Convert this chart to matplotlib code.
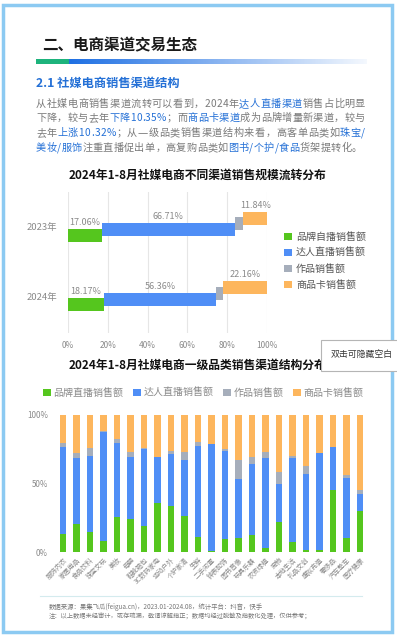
import numpy as np
import matplotlib
matplotlib.use('Agg')
import matplotlib.pyplot as plt
from matplotlib.patches import Rectangle
from matplotlib.lines import Line2D

plt.rcParams['font.family'] = ['Noto Sans CJK SC', 'DejaVu Sans']

# 数据 / data
years = ['2023年', '2024年']
channels = ['品牌自播销售额', '达人直播销售额', '作品销售额', '商品卡销售额']
share_2023 = [17.06, 66.71, 4.39, 11.84]
share_2024 = [18.17, 56.36, 3.31, 22.16]

cats = ['服饰内衣', '家居用品', '食品饮料', '珠宝文玩', '美妆', '母婴', '鞋靴箱包',
        '3C数码家电', '运动户外', '个护家清', '生鲜', '二手闲置', '钟表配饰', '图书音像',
        '玩具乐器', '农资绿植', '宠物', '本地生活', '礼品文创', '虚拟充值', '奢侈品',
        '汽车整车', '医疗健康']
brand_live = [13.0, 20.7, 14.6, 7.8, 25.6, 24.4, 18.8, 35.9, 33.7, 26.1, 11.0, 0.5,
              9.8, 10.2, 12.2, 2.9, 22.0, 7.3, 1.2, 1.2, 45.6, 10.2, 29.8]
kol_live = [64.0, 47.6, 55.6, 80.0, 53.7, 45.1, 56.1, 33.1, 37.5, 41.0, 66.6, 78.0,
            63.9, 43.0, 51.7, 65.4, 28.0, 61.0, 55.4, 70.8, 30.7, 43.5, 12.9]
works = [2.5, 3.7, 5.4, 0.5, 2.9, 3.7, 1.2, 0.5, 2.5, 6.1, 2.9, 0.5,
         1.4, 13.9, 5.6, 4.4, 8.5, 1.7, 6.1, 0.4, 0.5, 2.4, 2.4]
card = [100 - a - b - c for a, b, c in zip(brand_live, kol_live, works)]
legend2 = ['品牌直播销售额', '达人直播销售额', '作品销售额', '商品卡销售额']

colors = ['#55c61e', '#4f8ef6', '#a6aebb', '#fdb65d']
BLUE = '#2470d6'
GRAY = '#7a7a7a'

W, H = 397, 635
def fx(x):
    return x / W
def fy(y):
    return 1 - y / H

fig = plt.figure(figsize=(W / 100, H / 100), dpi=100)
fig.patch.set_facecolor('white')
renderer = fig.canvas.get_renderer()

# 外框
fig.patches.append(Rectangle((fx(3), fy(632)), 389 / W, 627 / H, transform=fig.transFigure,
                             fill=False, edgecolor='#8ccaf2', lw=2.5, zorder=1))

# 标题
fig.text(fx(42), fy(45), '二、电商渠道交易生态', fontsize=11.2, fontweight='bold',
         color='#1a1a1a', va='center')

# 渐变条
gax = fig.add_axes([fx(36), fy(64), 331 / W, 5 / H])
n = 331
img = np.ones((1, n, 4))
g_end = 33
img[0, :g_end, :3] = matplotlib.colors.to_rgb('#1db37c')
img[0, g_end:, :3] = matplotlib.colors.to_rgb('#1d6fe3')
img[0, g_end:, 3] = np.linspace(1, 0.05, n - g_end)
gax.imshow(img, aspect='auto')
gax.axis('off')

fig.text(fx(36), fy(83), '2.1 社媒电商销售渠道结构', fontsize=8.8, fontweight='bold',
         color=BLUE, va='center')

# 正文（两端对齐）
def para_line(y, parts, x0, x1, size=7.3):
    items = []
    for s, c in parts:
        for ch in s:
            items.append(fig.text(0, fy(y), ch, color=c, fontsize=size, va='center'))
    ws = [t.get_window_extent(renderer).width for t in items]
    gap = (x1 - x0 - sum(ws)) / (len(items) - 1)
    x = x0
    for t, w in zip(items, ws):
        t.set_x(fx(x))
        x += w + gap

para_line(104, [('从社媒电商销售渠道流转可以看到，2024年', GRAY), ('达人直播渠道', BLUE),
                ('销售占比明显', GRAY)], 36, 365)
para_line(118, [('下降，较与去年', GRAY), ('下降10.35%', BLUE), ('；而', GRAY),
                ('商品卡渠道', BLUE), ('成为品牌增量新渠道，较与', GRAY)], 36, 365)
para_line(133, [('去年', GRAY), ('上涨10.32%', BLUE),
                ('；从一级品类销售渠道结构来看，高客单品类如', GRAY), ('珠宝/', BLUE)], 36, 365)
para_line(148, [('美妆/服饰', BLUE), ('注重直播促出单，高复购品类如', GRAY),
                ('图书/个护/食品', BLUE), ('货架提转化。', GRAY)], 36, 362)

# 图1
fig.text(fx(197), fy(175), '2024年1-8月社媒电商不同渠道销售规模流转分布', fontsize=8.5,
         fontweight='bold', ha='center', va='center', color='#111111')

ax1 = fig.add_axes([fx(68), fy(333), 199 / W, 141 / H])
ypos = [1, 0]
offsets = [-0.121, -0.043, 0.043, 0.121]
bh = 0.186
handles = []
for yc, vals in zip(ypos, [share_2023, share_2024]):
    left = 0
    for i, v in enumerate(vals):
        b = ax1.barh(yc + offsets[i], v, left=left, height=bh, color=colors[i], zorder=3)
        if yc == 1:
            handles.append(b)
        if i != 2:
            ax1.text(left + v / 2, yc + offsets[i] + bh / 2 + 0.03, '%.2f%%' % v,
                     ha='center', va='bottom', fontsize=6.5, color='#8a8a8a', zorder=4)
        left += v
ax1.set_xlim(0, 100)
ax1.set_ylim(-0.53, 1.5)
ax1.set_xticks(range(0, 101, 20))
ax1.set_xticklabels(['%d%%' % t for t in range(0, 101, 20)])
ax1.set_yticks(ypos)
ax1.set_yticklabels(years)
ax1.grid(axis='x', color='#e6e6e6', lw=0.8, zorder=0)
ax1.tick_params(length=0, labelsize=6, labelcolor='#8a8a8a', pad=6)
ax1.tick_params(axis='y', labelsize=6.8, pad=8)
for s in ax1.spines.values():
    s.set_visible(False)
ax1.legend(handles, channels, loc='upper left', bbox_to_anchor=(fx(284), fy(232)),
           bbox_transform=fig.transFigure, frameon=False, fontsize=7.2,
           handlelength=0.8, handleheight=0.8, handletextpad=0.4, labelspacing=0.6,
           borderpad=0, borderaxespad=0, labelcolor='#555555')

# 图2
fig.text(fx(197), fy(365), '2024年1-8月社媒电商一级品类销售渠道结构分布', fontsize=8.5,
         fontweight='bold', ha='center', va='center', color='#111111')

ax2 = fig.add_axes([fx(55), fy(552), 313 / W, 137 / H])
x = np.arange(len(cats))
bottom = np.zeros(len(cats))
bars2 = []
for vals, c in zip([brand_live, kol_live, works, card], colors):
    bars2.append(ax2.bar(x, vals, bottom=bottom, width=0.5, color=c, zorder=3))
    bottom += np.array(vals)
ax2.set_xlim(-0.6, len(cats) - 0.4)
ax2.set_ylim(0, 100)
ax2.set_yticks([0, 50, 100])
ax2.set_yticklabels(['0%', '50%', '100%'])
ax2.set_xticks(x)
ax2.set_xticklabels(cats, rotation=45, ha='right', rotation_mode='anchor')
ax2.tick_params(length=0, labelcolor='#8a8a8a')
ax2.tick_params(axis='y', labelsize=5.8, pad=5)
ax2.tick_params(axis='x', labelsize=4.8, pad=3)
for s in ax2.spines.values():
    s.set_visible(False)
fig.legend(bars2, legend2, loc='center', bbox_to_anchor=(fx(203), fy(393)), ncol=4,
           frameon=False, fontsize=7.2, handlelength=0.8, handleheight=0.8,
           handletextpad=0.3, columnspacing=0.9, borderpad=0, labelcolor='#8a8a8a')

# 分隔线与注释
fig.add_artist(Line2D([fx(40), fx(362)], [fy(596), fy(596)], color='#d4ebee', lw=0.8))
fig.text(fx(49), fy(607), '数据来源：果集飞瓜(feigua.cn)，2023.01-2024.08，统计平台：抖音，快手',
         fontsize=4.6, color='#777777', va='center')
fig.text(fx(49), fy(617), '注：以上数据未经审计，或存疏漏，敬请谅解指正；数据均经过脱敏及指数化处理，仅供参考；',
         fontsize=4.5, color='#777777', va='center')

# 提示框
fig.patches.append(Rectangle((fx(321), fy(371)), 80 / W, 31 / H, transform=fig.transFigure,
                             facecolor='white', edgecolor='#b5b5b5', lw=0.8, zorder=10))
fig.text(fx(331), fy(354), '双击可隐藏空白', fontsize=6.4, color='#333333', va='center', zorder=11)

fig.savefig('out.png', dpi=100, facecolor='white')
